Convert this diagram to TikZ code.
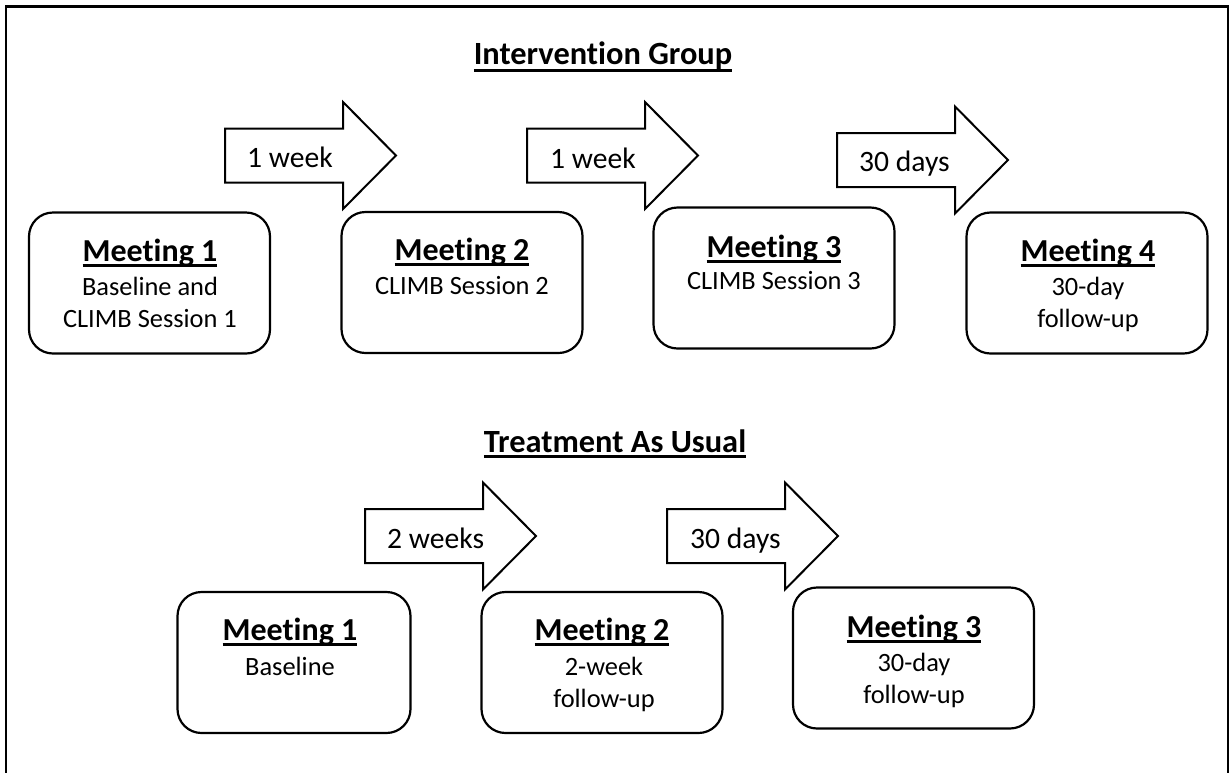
\documentclass[tikz,border=0pt]{standalone}
\usepackage{fontspec}
\setmainfont[Ligatures={NoCommon}]{Carlito}
\usetikzlibrary{positioning}
\newcommand{\ulhead}[2]{\setbox0\hbox{#2}\rlap{\rule[-#1]{\wd0}{2.6pt}}\box0}
% block arrow: tail x, centre y
\newcommand{\timearrow}[2]{%
  \draw[arrowbox] (#1,#2-27) -- ++(118,0) -- ++(0,-26.5) -- ++(53,53.5)
    -- ++(-53,53.5) -- ++(0,-26.5) -- ++(-118,0) -- cycle;}

\begin{document}
\begin{tikzpicture}[x=1pt, y=-1pt,
    meetbox/.style={draw, line width=2.2pt, rounded corners=24pt,
      minimum width=241pt, minimum height=141pt, inner sep=0pt},
    title/.style={font=\fontsize{32}{34}\selectfont\bfseries, inner sep=0pt, anchor=base},
    body/.style={font=\fontsize{26.4}{32}\selectfont, inner sep=0pt, anchor=base, align=center},
    arrowbox/.style={draw, line width=2pt, line join=miter},
    arrowlabel/.style={font=\fontsize{29.6}{32}\selectfont, inner sep=0pt, anchor=base west},
    heading/.style={font=\fontsize{32.4}{36}\selectfont\bfseries, inner sep=0pt, anchor=base}]

  \useasboundingbox (0,0) rectangle (1229,772);
  \draw[line width=2.6pt] (5.8,6.2) rectangle (1227.8,790);

  % intervention group
  \node[heading] (ivhead) at (603,64) {\ulhead{7.5pt}{Intervention Group}};

  \timearrow{225}{155.5}
  \timearrow{527}{155.5}
  \timearrow{837}{160}
  \node[arrowlabel] (ivwk1) at (247,167) {1 week};
  \node[arrowlabel] (ivwk2) at (550,168) {1 week};
  \node[arrowlabel] (ivdays) at (859,171) {30 days};

  \node[meetbox] (iv1) at (149.5,283) {};
  \node[meetbox] (iv2) at (462,282.5) {};
  \node[meetbox] (iv3) at (774,278) {};
  \node[meetbox] (iv4) at (1087,283) {};

  \node[title] (iv1t) at (150,261) {\ulhead{5.5pt}{Meeting 1}};
  \node[body] (iv1b) at (150,327) {Baseline and\\CLIMB Session 1};
  \node[title] (iv2t) at (462,260) {\ulhead{5.5pt}{Meeting 2}};
  \node[body] (iv2b) at (462,294) {CLIMB Session 2};
  \node[title] (iv3t) at (774,257) {\ulhead{5.5pt}{Meeting 3}};
  \node[body] (iv3b) at (774,289) {CLIMB Session 3};
  \node[title] (iv4t) at (1088,261) {\ulhead{5.5pt}{Meeting 4}};
  \node[body] (iv4b) at (1088,327) {30-day\\follow-up};

  % treatment as usual
  \node[heading] (tauhead) at (615,452) {\ulhead{6pt}{Treatment As Usual}};

  \timearrow{365}{536}
  \timearrow{667}{536}
  \node[arrowlabel] (tauwk) at (387,548) {2 weeks};
  \node[arrowlabel] (taudays) at (690,548) {30 days};

  \node[meetbox, minimum width=233pt] (tau1) at (294,662.5) {};
  \node[meetbox] (tau2) at (602,662.5) {};
  \node[meetbox] (tau3) at (913.5,658) {};

  \node[title] (tau1t) at (290,640) {\ulhead{5.5pt}{Meeting 1}};
  \node[body] (tau1b) at (290,675) {Baseline};
  \node[title] (tau2t) at (602,640) {\ulhead{5.5pt}{Meeting 2}};
  \node[body] (tau2b) at (604,707) {2-week\\follow-up};
  \node[title] (tau3t) at (914,637) {\ulhead{5.5pt}{Meeting 3}};
  \node[body] (tau3b) at (914,703) {30-day\\follow-up};

\end{tikzpicture}
\end{document}
